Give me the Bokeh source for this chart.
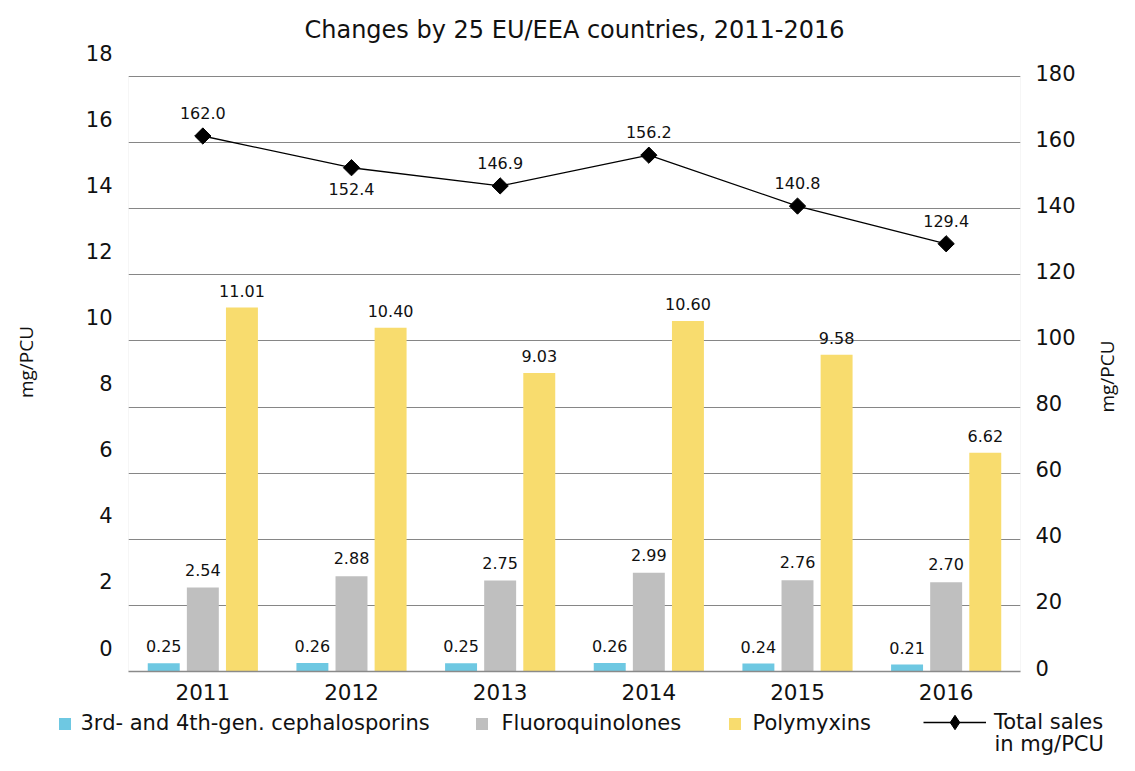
import math
from bokeh.plotting import figure
from bokeh.layouts import column, row
from bokeh.models import (ColumnDataSource, LinearAxis, Range1d, FactorRange, FixedTicker,
                          LabelSet, Label, Legend, LegendItem, BoxAnnotation)
from bokeh.core.properties import value
from bokeh.transform import dodge
from bokeh.embed import file_html
from bokeh.resources import INLINE

years = ["2011", "2012", "2013", "2014", "2015", "2016"]
cephalosporins = [0.25, 0.26, 0.25, 0.26, 0.24, 0.21]
fluoroquinolones = [2.54, 2.88, 2.75, 2.99, 2.76, 2.70]
polymyxins = [11.01, 10.40, 9.03, 10.60, 9.58, 6.62]
total_sales = [162.0, 152.4, 146.9, 156.2, 140.8, 129.4]
total_label_below = [False, True, False, False, False, False]
left_ticks = [0, 2, 4, 6, 8, 10, 12, 14, 16, 18]
right_ticks = [0, 20, 40, 60, 80, 100, 120, 140, 160, 180]

C_CEPH = "#6EC8E2"
C_FLUO = "#BFBFBF"
C_POLY = "#F8DC6E"
FONT = "DejaVu Sans"
TXT = "#111111"

# page geometry
W = 1119
SIDE_W = 25                           # strip on the right holding the right axis title
PW = W - SIDE_W
FR_TOP, FR_BOTTOM = 52, 671          # frame top / x-axis position
GRID_TOP_PX = 76                      # pixel of the 18 / 180 gridline
PLOT_H = 708
LEFT_MAX = 18.0
RIGHT_MAX = 180.0
px_per_unit = (FR_BOTTOM - GRID_TOP_PX) / LEFT_MAX
ext = (GRID_TOP_PX - FR_TOP) / px_per_unit      # headroom above the 18 gridline
LABEL_SHIFT = 24 / px_per_unit                  # left tick labels sit above their gridlines
RLABEL_SHIFT = 4 / px_per_unit * RIGHT_MAX / LEFT_MAX

src = ColumnDataSource(dict(
    year=years,
    ceph=cephalosporins, fluo=fluoroquinolones, poly=polymyxins, total=total_sales,
    ceph_t=[f"{v:.2f}" for v in cephalosporins],
    fluo_t=[f"{v:.2f}" for v in fluoroquinolones],
    poly_t=[f"{v:.2f}" for v in polymyxins],
    total_t=[f"{v:.1f}" for v in total_sales],
    total_off=[-15 if b else 17 for b in total_label_below],
    total_base=["top" if b else "bottom" for b in total_label_below],
))

p = figure(width=PW, height=PLOT_H, x_range=FactorRange(*years), y_range=Range1d(0, LEFT_MAX + ext),
           output_backend="svg", toolbar_location=None,
           min_border_left=128, min_border_right=PW - 1020, min_border_top=FR_TOP,
           min_border_bottom=PLOT_H - FR_BOTTOM)
p.frame_align = False
p.extra_y_ranges = {
    "right": Range1d(0, (LEFT_MAX + ext) * RIGHT_MAX / LEFT_MAX),
    "rlab": Range1d(-RLABEL_SHIFT, (LEFT_MAX + ext) * RIGHT_MAX / LEFT_MAX - RLABEL_SHIFT),
    "lab": Range1d(-LABEL_SHIFT, LEFT_MAX + ext - LABEL_SHIFT),
}
p.outline_line_color = None
p.background_fill_color = "white"

p.title.text = "Changes by 25 EU/EEA countries, 2011-2016"
p.title.align = "center"
p.title.text_font = FONT
p.title.text_font_size = "24px"
p.title.text_font_style = "normal"
p.title.text_color = TXT
p.title.standoff = 17

# frame border (light grey), drawn beneath the grid
box = BoxAnnotation(left=0, right=len(years), bottom=0, top=LEFT_MAX, fill_alpha=0,
                    line_color="#C4C4C4", line_width=1, level="underlay")
p.center = [box] + list(p.center)

p.xgrid.grid_line_color = None
p.ygrid.ticker = FixedTicker(ticks=left_ticks)
p.ygrid.grid_line_color = "#868686"
p.ygrid.grid_line_width = 1

p.yaxis[0].visible = False

def style_axis(ax):
    ax.axis_line_color = None
    ax.major_tick_out = 0
    ax.major_tick_in = 0
    ax.minor_tick_out = 0
    ax.minor_tick_in = 0
    ax.major_label_text_font = FONT
    ax.major_label_text_font_size = "21px"
    ax.major_label_text_color = TXT
    ax.axis_label_text_font = "Open Sans"
    ax.axis_label_text_font_size = "19px"
    ax.axis_label_text_font_style = "normal"
    ax.axis_label_text_color = TXT
    ax.axis_label_text_line_height = 1.0

la = LinearAxis(y_range_name="lab", ticker=FixedTicker(ticks=left_ticks))
style_axis(la)
la.axis_label = "mg/PCU"
la.major_label_standoff = 16
la.axis_label_standoff = 44
p.add_layout(la, "left")

ra = LinearAxis(y_range_name="rlab", ticker=FixedTicker(ticks=right_ticks))
style_axis(ra)
ra.major_label_standoff = 15
p.add_layout(ra, "right")

xa = p.xaxis[0]
xa.axis_line_color = "#8A8A8A"
xa.axis_line_width = 1.5
xa.major_tick_out = 0
xa.major_tick_in = 0
xa.major_label_standoff = 12
xa.major_label_text_font = FONT
xa.major_label_text_font_size = "21.5px"
xa.major_label_text_color = TXT

# bars
bw = 0.215
off = 0.263
p.vbar(x=dodge("year", -off, range=p.x_range), top="ceph", width=bw, source=src,
       fill_color=C_CEPH, line_color=None)
p.vbar(x=dodge("year", 0.0, range=p.x_range), top="fluo", width=bw, source=src,
       fill_color=C_FLUO, line_color=None)
p.vbar(x=dodge("year", off, range=p.x_range), top="poly", width=bw, source=src,
       fill_color=C_POLY, line_color=None)

# total sales line
p.line(x="year", y="total", source=src, y_range_name="right", line_color="black", line_width=1.3)
p.scatter(x="year", y="total", source=src, y_range_name="right", marker="square",
          angle=math.pi / 4, size=11.5, fill_color="black", line_color="black")

lab_kw = dict(text_font=value(FONT), text_font_size="16px", text_color=TXT, text_align="center")
p.add_layout(LabelSet(x=dodge("year", -off, range=p.x_range), y="ceph", text="ceph_t", source=src,
                      y_offset=11, text_baseline="bottom", **lab_kw))
p.add_layout(LabelSet(x=dodge("year", 0.0, range=p.x_range), y="fluo", text="fluo_t", source=src,
                      y_offset=12, text_baseline="bottom", **lab_kw))
p.add_layout(LabelSet(x=dodge("year", off, range=p.x_range), y="poly", text="poly_t", source=src,
                      y_offset=11, text_baseline="bottom", **lab_kw))
p.add_layout(LabelSet(x="year", y="total", text="total_t", source=src, y_range_name="right",
                      y_offset="total_off", text_baseline="total_base", **lab_kw))

# right-hand strip: title of the secondary axis
s = figure(width=SIDE_W, height=PLOT_H, x_range=Range1d(0, 1), y_range=Range1d(0, 1),
           output_backend="svg", toolbar_location=None, x_axis_type=None, y_axis_type=None,
           min_border=0)
s.frame_align = False
s.outline_line_color = None
s.xgrid.visible = False
s.ygrid.visible = False
s.add_layout(Label(x=12, y=PLOT_H - 376, x_units="screen", y_units="screen", text="mg/PCU",
                   angle=math.pi / 2, text_font="Open Sans", text_font_size="19px",
                   text_line_height=1.0,
                   text_color=TXT, text_align="center", text_baseline="middle"))

# legend strip below the chart; its renderers use the same data but lie outside its view
LEG_H = 755 - PLOT_H
q = figure(width=W, height=LEG_H, x_range=FactorRange(*years), y_range=Range1d(500, 501),
           output_backend="svg", toolbar_location=None, x_axis_type=None, y_axis_type=None,
           min_border=0)
q.frame_align = False
q.outline_line_color = None
q.xgrid.visible = False
q.ygrid.visible = False
e1 = q.vbar(x="year", top="ceph", width=bw, source=src, fill_color=C_CEPH, line_color=None)
e2 = q.vbar(x="year", top="fluo", width=bw, source=src, fill_color=C_FLUO, line_color=None)
e3 = q.vbar(x="year", top="poly", width=bw, source=src, fill_color=C_POLY, line_color=None)
e4 = q.line(x="year", y="total", source=src, line_color="black", line_width=1.3)
e5 = q.scatter(x="year", y="total", source=src, marker="diamond", size=14,
               fill_color="black", line_color="black")

def make_legend(label, rends, loc, gw, gh, standoff):
    lg = Legend(items=[LegendItem(label=label, renderers=rends)], location=loc,
                orientation="horizontal", glyph_width=gw, glyph_height=gh,
                label_standoff=standoff, padding=0, margin=0, spacing=0,
                border_line_color=None, background_fill_alpha=0,
                label_text_font=FONT, label_text_font_size="21px", label_text_color=TXT,
                label_text_line_height=1.0)
    q.add_layout(lg)

make_legend("3rd- and 4th-gen. cephalosporins", [e1], (56.5, 20), 15, 15, 9)
make_legend("Fluoroquinolones", [e2], (473.5, 20), 15, 15, 13)
make_legend("Polymyxins", [e3], (726.5, 20), 15, 15, 11)
make_legend("Total sales", [e4, e5], (923, 15), 63, 36, 8)
q.add_layout(Label(x=994, y=12, x_units="screen", y_units="screen", text="in mg/PCU",
                   text_font=FONT, text_font_size="21px", text_color=TXT,
                   text_align="left", text_baseline="middle"))

layout = column(row(p, s, spacing=0), q, spacing=0)
open("out.html", "w").write(file_html(layout, INLINE))
